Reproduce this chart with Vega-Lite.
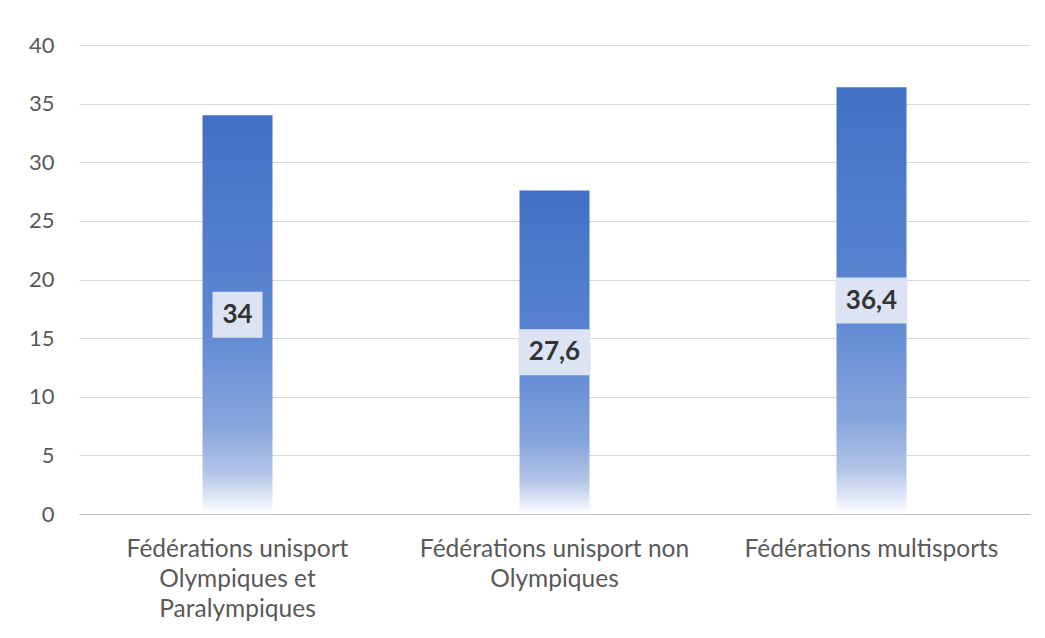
{
  "$schema": "https://vega.github.io/schema/vega-lite/v6.json",
  "width": 951,
  "height": 469,
  "autosize": {"type": "none"},
  "padding": {"left": 79, "top": 45, "right": 15, "bottom": 124},
  "background": "white",
  "config": {
    "view": {"stroke": null},
    "font": "Lato",
    "locale": {"number": {"decimal": ",", "thousands": " ", "grouping": [3], "currency": ["", " €"]}}
  },
  "data": {
    "values": [
      {"category": "Fédérations unisport Olympiques et Paralympiques", "value": 34},
      {"category": "Fédérations unisport non Olympiques", "value": 27.6},
      {"category": "Fédérations multisports", "value": 36.4}
    ]
  },
  "encoding": {
    "x": {
      "field": "category",
      "type": "nominal",
      "sort": null,
      "scale": {"paddingInner": 0.78, "paddingOuter": 0.39},
      "axis": {
        "title": null,
        "labelAngle": 0,
        "ticks": false,
        "domain": true,
        "domainColor": "#bfbfbf",
        "labelFont": "Lato",
        "labelFontSize": 24.5,
        "labelColor": "#595959",
        "labelPadding": 23,
        "labelLineHeight": 30,
        "labelLimit": 500,
        "labelExpr": "datum.label == 'Fédérations unisport Olympiques et Paralympiques' ? ['Fédérations unisport', 'Olympiques et', 'Paralympiques'] : datum.label == 'Fédérations unisport non Olympiques' ? ['Fédérations unisport non', 'Olympiques'] : datum.label"
      }
    }
  },
  "layer": [
    {
      "mark": {
        "type": "bar",
        "width": 70,
        "color": {
          "gradient": "linear",
          "x1": 0, "y1": 0, "x2": 0, "y2": 1,
          "stops": [
            {"offset": 0, "color": "#4270c4"},
            {"offset": 0.5, "color": "#5a86d2"},
            {"offset": 0.78, "color": "#87a5dc"},
            {"offset": 0.9, "color": "#b4c6e8"},
            {"offset": 1, "color": "#ffffff"}
          ]
        }
      },
      "encoding": {
        "y": {
          "field": "value",
          "type": "quantitative",
          "scale": {"domain": [0, 40]},
          "axis": {
            "title": null,
            "values": [0, 5, 10, 15, 20, 25, 30, 35, 40],
            "ticks": false,
            "domain": false,
            "grid": true,
            "gridColor": "#d9d9d9",
            "gridWidth": 1,
            "labelFont": "Lato",
            "labelFontSize": 22,
            "labelColor": "#595959",
            "labelPadding": 25
          }
        }
      }
    },
    {
      "transform": [{"calculate": "datum.value / 2", "as": "mid"}],
      "mark": {"type": "tick", "thickness": 46, "color": "#dce4f3", "opacity": 1},
      "encoding": {
        "y": {"field": "mid", "type": "quantitative"},
        "size": {"condition": {"test": "datum.value == 34", "value": 50}, "value": 72}
      }
    },
    {
      "transform": [{"calculate": "datum.value / 2", "as": "mid"}],
      "mark": {"type": "text", "font": "Lato", "fontSize": 26, "fontWeight": "bold", "color": "#333333", "baseline": "middle", "align": "center"},
      "encoding": {
        "y": {"field": "mid", "type": "quantitative"},
        "text": {"field": "value", "type": "quantitative", "format": ".1~f"}
      }
    }
  ]
}
